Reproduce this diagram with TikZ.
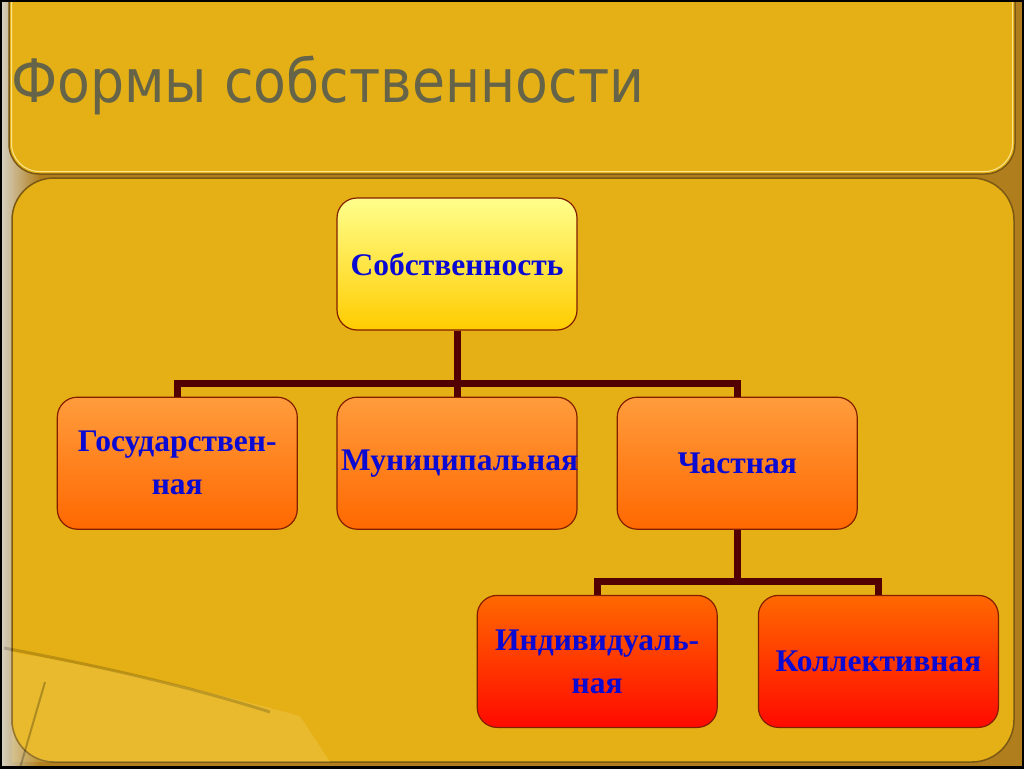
\documentclass[tikz,border=0pt]{standalone}
\usepackage{fontspec}
\setmainfont{Liberation Serif}
\newfontfamily\titelfont{DejaVu Sans}
\usetikzlibrary{positioning}
\definecolor{gold}{RGB}{229,176,22}
\definecolor{goldbraun}{RGB}{176,126,28}
\definecolor{goldhell}{RGB}{250,228,140}
\definecolor{silber}{RGB}{214,210,196}
\definecolor{titelgrau}{RGB}{102,100,72}
\definecolor{textblau}{RGB}{10,10,210}
\definecolor{rahmen}{RGB}{130,30,0}
\definecolor{linie}{RGB}{82,0,0}
\tikzset{
	panel/.style={
		fill=gold,
		draw=goldbraun!70!black, line width=1.5pt},
	kasten/.style={
		rectangle,
		rounded corners=20pt,
		draw=rahmen, line width=1.2pt,
		minimum width=240pt,
		minimum height=132pt,
		text width=232pt,
		align=center,
		inner sep=0pt,
		text=textblau,
		font=\fontsize{31.5}{43}\selectfont\bfseries},
	oben/.style={top color=yellow!45!white, bottom color={rgb,255:red,255;green,204;blue,0}},
	mitte/.style={top color={rgb,255:red,255;green,156;blue,60}, bottom color={rgb,255:red,255;green,104;blue,0}},
	unten/.style={top color={rgb,255:red,255;green,104;blue,0}, bottom color={rgb,255:red,255;green,10;blue,0}},
	link/.style={draw=linie, line width=7pt},
}
\begin{document}
\begin{tikzpicture}[x=1pt, y=-1pt, node distance=40pt]
	\useasboundingbox (0,0) rectangle (1024,768);
	% hintergrund
	\fill[goldbraun] (0,0) rectangle (1024,768);
	\shade[left color=silber, right color=goldbraun] (0,0) rectangle (40,768);
	\filldraw[panel, rounded corners=30pt] (9,-40) rectangle (1015,174);
	\draw[goldhell, line width=1pt, rounded corners=28pt] (11.5,-40) -- (11.5,171.5) -- (1012.5,171.5) -- (1012.5,-40);
	\filldraw[panel, rounded corners=42pt] (12,178) rectangle (1014,762);
	\fill[goldhell, opacity=0.2] (12,652) .. controls (150,676) and (240,700) .. (300,716) -- (330,762) -- (12,762) -- cycle;
	\draw[black, opacity=0.18, line width=3pt] (4,648) .. controls (120,670) and (200,690) .. (270,712);
	\draw[black, opacity=0.25, line width=2pt] (45,682) -- (20,768);
	\draw[black, line width=4pt] (0,0) rectangle (1024,768);
	% titel
	\node[anchor=base west, inner sep=0pt, text=titelgrau,
		font=\titelfont\fontsize{60}{60}\selectfont] (titel) at (11,102) {\scalebox{0.895}[1]{Формы собственности}};
	% baum
	\node[kasten, oben] (sobstv) at (457,264) {Собственность};
	\node[kasten, mitte, below=66pt of sobstv] (mun) {Муниципальная};
	\node[kasten, mitte, left=38.5pt of mun] (gos) {Государствен-\\ная};
	\node[kasten, mitte, right=39pt of mun] (chast) {Частная};
	\node[kasten, unten, below=65pt of chast, xshift=-140pt] (indiv) {Индивидуаль-\\ная};
	\node[kasten, unten, right=40pt of indiv] (koll) {Коллективная};
	\draw[link] (sobstv.south) -- ++(0,53) coordinate (knoten1) -- (mun.north);
	\draw[link] (gos.north) |- (knoten1) -| (chast.north);
	\draw[link] (chast.south) -- ++(0,52) coordinate (knoten2);
	\draw[link] (indiv.north) |- (knoten2) -| (koll.north);
\end{tikzpicture}
\end{document}
